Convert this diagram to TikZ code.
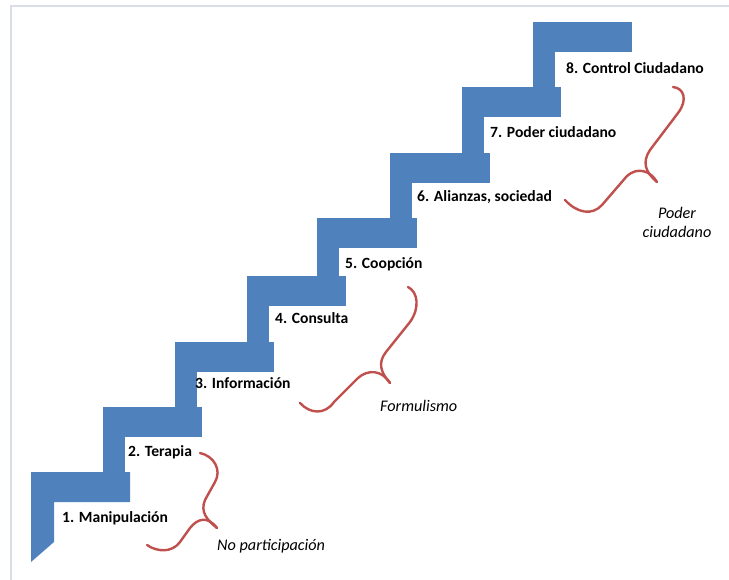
\documentclass[tikz,border=0pt]{standalone}
\usepackage{fontspec}
\setmainfont{Carlito}
\usepackage{tikz}

\definecolor{stairblue}{RGB}{79,129,189}
\definecolor{bracered}{RGB}{192,80,77}
\definecolor{framegray}{RGB}{216,221,230}

\tikzset{
    stair/.style={fill=stairblue, draw=none},
    curl/.style={draw=bracered, line width=2.4pt, line cap=round},
    lvl/.style={anchor=west, inner sep=0pt, font=\fontsize{15.6}{19}\selectfont\bfseries},
    grp/.style={inner sep=0pt, font=\fontsize{16.2}{19}\selectfont\itshape, align=center}
}

\begin{document}
\begin{tikzpicture}[x=1pt, y=-1pt]
    \useasboundingbox (0,0) rectangle (729,580);
    \fill[white] (0,0) rectangle (729,580);
    \draw[framegray, line width=2pt] (11,580) -- (11,6) -- (729,6);

    \fill[stair] (31,472) -- (130,472) -- (130,502) -- (54,502) -- (54,542) -- (31,562) -- cycle;
    \fill[stair] (103,407) rectangle (202,437);
    \fill[stair] (103,436) rectangle (125,473);
    \fill[stair] (175,342) rectangle (274,372);
    \fill[stair] (175,371) rectangle (197,408);
    \fill[stair] (247,276) rectangle (346,306);
    \fill[stair] (247,305) rectangle (269,343);
    \fill[stair] (317,218) rectangle (417,248);
    \fill[stair] (317,247) rectangle (339,277);
    \fill[stair] (390,153) rectangle (490,183);
    \fill[stair] (390,182) rectangle (412,219);
    \fill[stair] (462,87) rectangle (561,117);
    \fill[stair] (462,116) rectangle (484,154);
    \fill[stair] (533,22) rectangle (632,52);
    \fill[stair] (533,51) rectangle (555,88);

    \node[lvl] (s1) at (62,518) {1. Manipulación};
    \node[lvl] (s2) at (128,452) {2. Terapia};
    \node[lvl] (s3) at (195,383) {3. Información};
    \node[lvl] (s4) at (275,318) {4. Consulta};
    \node[lvl] (s5) at (345,264) {5. Coopción};
    \node[lvl] (s6) at (417,197) {6. Alianzas,\ sociedad};
    \node[lvl] (s7) at (490,132) {7. Poder ciudadano};
    \node[lvl] (s8) at (566,68) {8. Control\ Ciudadano};

    \draw[curl] (147,545) .. controls (157,552) and (172,553) .. (180,542) -- (190,528)
        .. controls (198,518) and (208,516) .. (217,528);
    \draw[curl] (217,528) .. controls (207,520) and (200,512) .. (205,500) -- (215,482)
        .. controls (222,470) and (214,456) .. (200,453);

    \draw[curl] (300,403) .. controls (310,414) and (325,415) .. (334,402) -- (358,378)
        .. controls (368,369) and (382,370) .. (390,383);
    \draw[curl] (390,383) .. controls (380,372) and (378,362) .. (386,352) -- (410,322)
        .. controls (420,308) and (418,292) .. (408,287);

    \draw[curl] (565,200) .. controls (577,213) and (592,216) .. (602,205) -- (627,176)
        .. controls (637,167) and (650,170) .. (657,182);
    \draw[curl] (657,182) .. controls (645,172) and (642,162) .. (650,150) -- (678,113)
        .. controls (688,100) and (684,88) .. (673,87);

    \node[grp, anchor=west] (g1) at (217,546) {No participación};
    \node[grp, anchor=west] (g2) at (380,406) {Formulismo};
    \node[grp] (g3) at (677,222) {Poder\\ciudadano};
\end{tikzpicture}
\end{document}
